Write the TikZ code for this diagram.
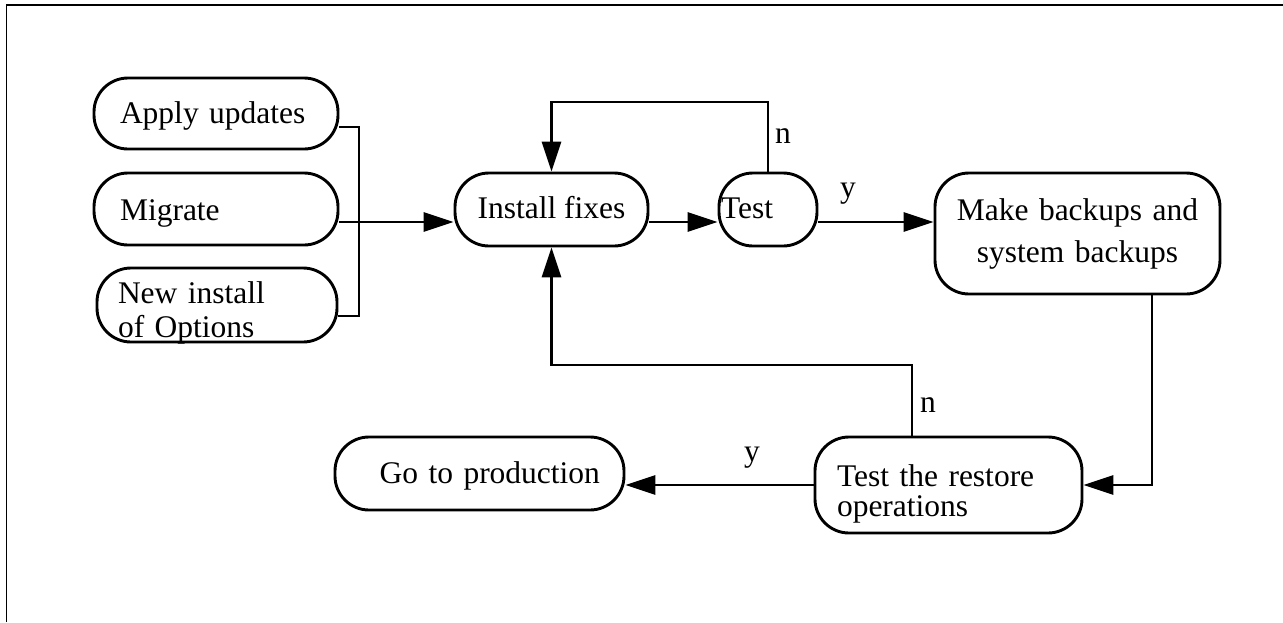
\documentclass[tikz,border=0pt]{standalone}
\usepackage{fontspec}
\setmainfont{Liberation Serif}
\usetikzlibrary{arrows.meta}

\tikzset{
  stepbox/.style={draw=black, line width=2.9pt, rounded corners=34pt,
    inner xsep=0pt, inner ysep=0pt,
    font=\fontsize{31.5pt}{36pt}\selectfont},
  flow/.style={draw=black, line width=2.9pt},
  arr/.style={flow, -{Triangle[length=30pt,width=19pt]}},
  lab/.style={inner sep=0pt, anchor=base west,
    font=\fontsize{31.5pt}{36pt}\selectfont},
}

\begin{document}
\begin{tikzpicture}[x=1pt, y=-1pt]
\useasboundingbox (0,0) rectangle (1283,622);

% page frame (top and left edges)
\draw[line width=1.8pt] (6.5,622) -- (6.5,4.7) -- (1283,4.7);

% entry points
\node[stepbox, minimum width=244pt, minimum height=71pt,
  text width=192pt, align=left, text height=30pt, text depth=10pt]
  (apply) at (216,113.5) {Apply updates};
\node[stepbox, minimum width=244pt, minimum height=72pt,
  text width=192pt, align=left, text height=31pt, text depth=9pt]
  (mig) at (216,209) {Migrate};
\node[stepbox, minimum width=240pt, minimum height=74pt,
  text width=198pt, align=left, text height=18pt, text depth=22pt,
  font=\fontsize{31.5pt}{34pt}\selectfont]
  (newinst) at (217,305) {New install\\of Options};

% main loop
\node[stepbox, minimum width=193pt, minimum height=73pt,
  text height=29pt, text depth=11pt]
  (inst) at (551.5,209.5) {Install fixes};
\node[stepbox, minimum width=98pt, minimum height=73pt,
  text width=94pt, align=left, text height=29pt, text depth=11pt]
  (test) at (768,209.5) {Test};
\node[stepbox, minimum width=285pt, minimum height=121pt,
  text width=270pt, align=center, text height=6.5pt, text depth=33.5pt,
  font=\fontsize{31.5pt}{42pt}\selectfont]
  (backup) at (1077.5,233.5) {Make backups and\\system backups};
\node[stepbox, minimum width=267pt, minimum height=96pt,
  text width=223pt, align=left, text height=21pt, text depth=19pt,
  font=\fontsize{31.5pt}{30pt}\selectfont]
  (restore) at (948.5,485) {Test the restore\\operations};
\node[stepbox, minimum width=289pt, minimum height=73pt,
  text width=241pt, align=right, text height=29.5pt, text depth=10.5pt]
  (prod) at (479.5,473.5) {Go to production};

% bend points
\coordinate (bus) at (359,222);
\coordinate (loopA) at (551.5,102);
\coordinate (loopB) at (551.5,365);

% connectors
\draw[flow] ([yshift=-13.5pt]apply.east) -| (bus) |- ([yshift=-11pt]newinst.east);
\draw[arr] ([yshift=-13pt]mig.east) -- ([yshift=-12.5pt]inst.west);
\draw[arr] ([yshift=-12.5pt]inst.east) -- ([yshift=-12.5pt]test.west);
\draw[arr] (test.north) |- (loopA) -- (inst.north);
\draw[arr] ([yshift=-12.5pt]test.east) -- ([yshift=11.5pt]backup.west);
\draw[arr] ([xshift=74.5pt]backup.south) |- (restore.east);
\draw[arr] ([xshift=-36.5pt]restore.north) |- (loopB) -- (inst.south);
\draw[arr] (restore.west) -- (prod.east |- restore.west);

% branch labels
\node[lab] (n1) at (775,143) {n};
\node[lab] (y1) at (840,197) {y};
\node[lab] (n2) at (920,412) {n};
\node[lab] (y2) at (744,461) {y};
\end{tikzpicture}
\end{document}
